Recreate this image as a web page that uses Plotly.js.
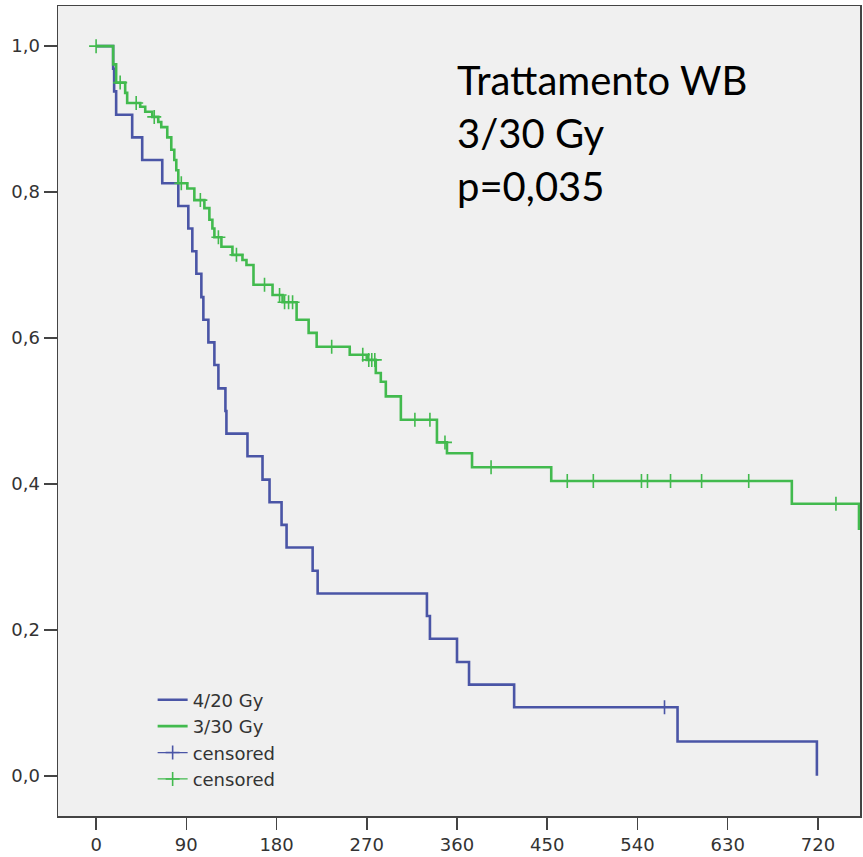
<!DOCTYPE html>
<html>
<head>
<meta charset="utf-8">
<script src="https://cdn.plot.ly/plotly-3.0.1.min.js"></script>
<style>
html,body{margin:0;padding:0;background:#fff;}
#chart{width:863px;height:857px;}
</style>
</head>
<body>
<div id="chart"></div>
<script>
// ---- Data ----
const groupNames = ["4/20 Gy", "3/30 Gy"];

// 4/20 Gy: event times (days) and Kaplan-Meier survival after each event
const blueTimes = [0, 17, 18, 20, 36, 46, 66, 82, 92, 96, 100, 105, 107, 112, 118, 122, 129, 130, 151, 166, 173, 185, 190, 216, 221, 330, 333, 360, 372, 417, 580, 719];
const blueSurv  = [1.0, 0.969, 0.938, 0.906, 0.875, 0.844, 0.812, 0.781, 0.750, 0.719, 0.688, 0.656, 0.625, 0.594, 0.563, 0.531, 0.500, 0.469, 0.438, 0.406, 0.375, 0.344, 0.313, 0.281, 0.250, 0.219, 0.188, 0.156, 0.125, 0.094, 0.047, 0.000];
const blueCensored = [567];

// 3/30 Gy
const greenTimes = [0, 17, 20, 29, 31, 44, 49, 56, 62, 65, 71, 75, 78, 80, 82, 91, 98, 108, 113, 116, 118, 125, 136, 146, 150, 157, 176, 186, 200, 212, 220, 253, 270, 279, 284, 289, 304, 340, 350, 375, 454, 694, 761];
const greenSurv  = [1.0, 0.975, 0.950, 0.936, 0.922, 0.917, 0.910, 0.903, 0.896, 0.889, 0.875, 0.858, 0.844, 0.830, 0.812, 0.805, 0.789, 0.778, 0.762, 0.750, 0.738, 0.725, 0.714, 0.707, 0.700, 0.673, 0.659, 0.649, 0.625, 0.607, 0.588, 0.577, 0.570, 0.552, 0.540, 0.520, 0.488, 0.457, 0.442, 0.423, 0.404, 0.373, 0.337];
const greenCensored = [0, 24, 40, 58, 85, 104, 122, 140, 168, 183, 188, 192, 196, 235, 266, 272, 275, 278, 318, 333, 348, 394, 470, 496, 544, 550, 573, 604, 651, 738];

const xTickVals = [0, 90, 180, 270, 360, 450, 540, 630, 720];
const yTickVals = [0, 0.2, 0.4, 0.6, 0.8, 1.0];
const annotationLines = ["Trattamento WB", "3/30 Gy", "p=0,035"];

// ---- Helpers ----
function survAt(times, surv, t) {
  let v = surv[0];
  for (let i = 0; i < times.length; i++) { if (times[i] <= t) v = surv[i]; }
  return v;
}
// interleave nulls so that censor marks are not joined, while the legend still shows "—+—"
function withGaps(arr) {
  const out = [];
  arr.forEach((v, i) => { if (i) out.push(null); out.push(v); });
  return out;
}

const BLUE = "#4a55a6";
const GREEN = "#42ba4e";
const TXT_FONT = "'DejaVu Sans', Verdana, sans-serif";

function censorTrace(times, ts, ss, color, grp) {
  return {
    x: withGaps(times), y: withGaps(times.map(t => survAt(ts, ss, t))),
    type: "scatter", mode: "lines+markers", connectgaps: false,
    line: {color: color, width: 1.2},
    marker: {symbol: "cross-thin-open", size: 10, color: color, line: {color: color, width: 1.6}},
    name: "censored", legendgroup: grp
  };
}

const traces = [
  {x: blueTimes, y: blueSurv, type: "scatter", mode: "lines", line: {shape: "hv", color: BLUE, width: 2.6},
   name: groupNames[0], legendgroup: "a"},
  {x: greenTimes, y: greenSurv, type: "scatter", mode: "lines", line: {shape: "hv", color: GREEN, width: 2.6},
   name: groupNames[1], legendgroup: "b"},
  censorTrace(blueCensored, blueTimes, blueSurv, BLUE, "c"),
  censorTrace(greenCensored, greenTimes, greenSurv, GREEN, "d")
];

const annY = [0.9086, 0.843, 0.778];
const annotations = annotationLines.map((t, i) => ({
  text: t, xref: "paper", yref: "paper", x: 0.495, y: annY[i], xanchor: "left", yanchor: "middle",
  showarrow: false, font: {family: "Lato, 'Open Sans', sans-serif", size: 40, color: "#000"}
}));

const axisCommon = {
  showgrid: false, zeroline: false, showline: true, mirror: true, linecolor: "#444", linewidth: 1.5,
  ticks: "outside", tickwidth: 1.5, tickcolor: "#444",
  tickfont: {family: TXT_FONT, size: 18, color: "#333"}
};

const layout = {
  width: 863, height: 857,
  margin: {l: 58, r: 3, t: 6, b: 41},
  paper_bgcolor: "#ffffff", plot_bgcolor: "#f0f0f0",
  separators: ",.",
  showlegend: true,
  legend: {x: 0.118, y: 0.166, xanchor: "left", yanchor: "top", bgcolor: "rgba(0,0,0,0)",
           font: {family: TXT_FONT, size: 18, color: "#333"},
           tracegroupgap: 0, itemwidth: 30},
  xaxis: Object.assign({}, axisCommon, {range: [-38, 762], tickvals: xTickVals, ticklen: 12}),
  yaxis: Object.assign({}, axisCommon, {range: [-0.055, 1.055], tickvals: yTickVals, tickformat: ".1f", ticklen: 13}),
  annotations: annotations
};

Plotly.newPlot("chart", traces, layout, {displayModeBar: false, staticPlot: true});
</script>
</body>
</html>
